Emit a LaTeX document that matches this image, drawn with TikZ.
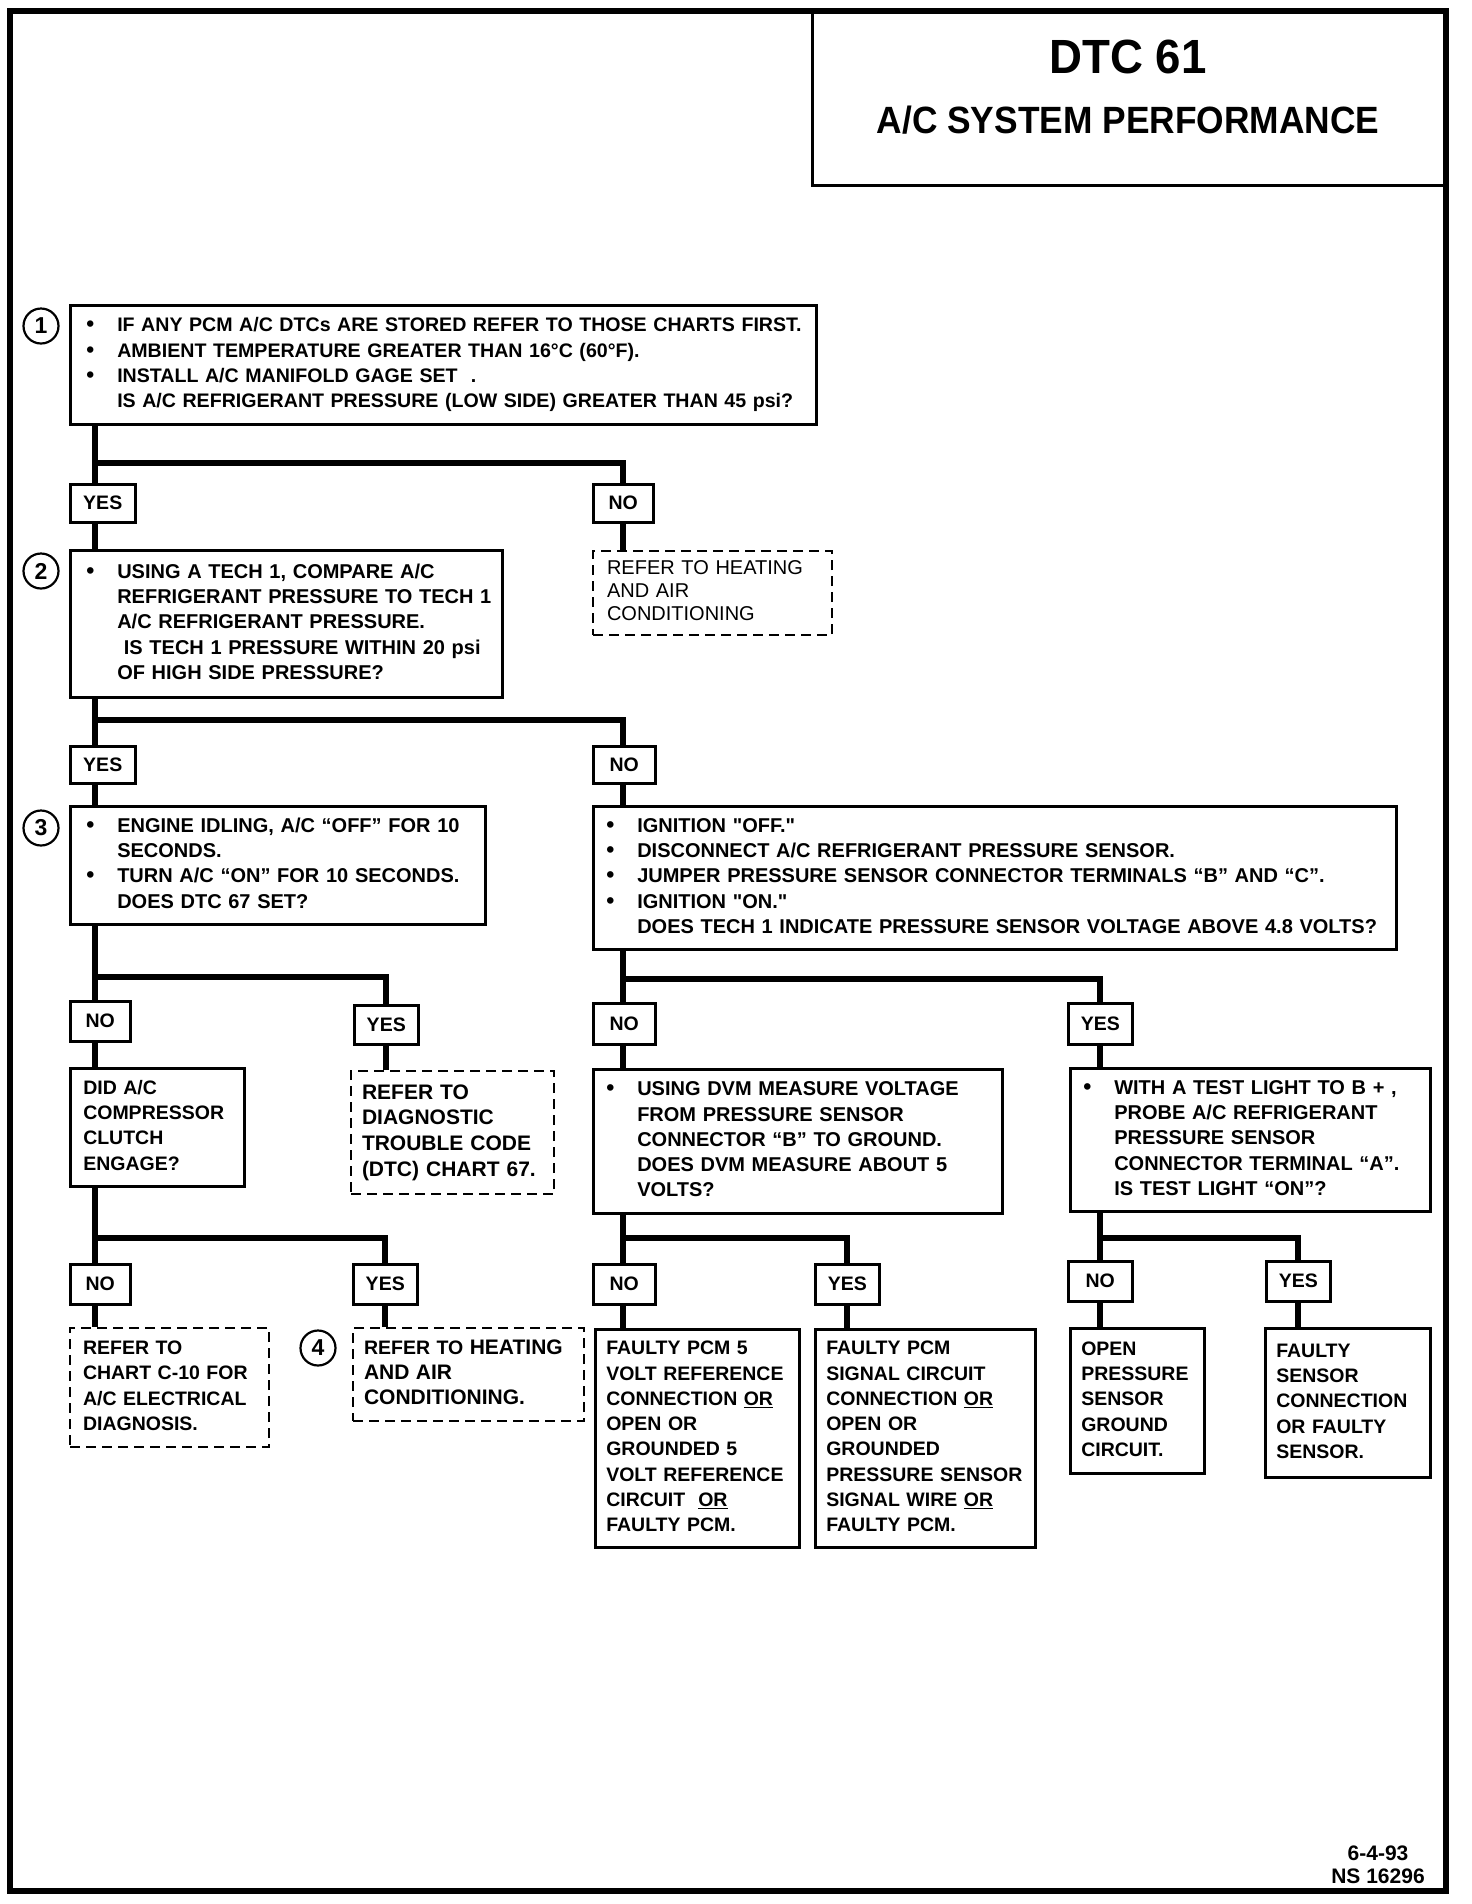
\documentclass[tikz,border=0pt]{standalone}
\usepackage{fontspec}
\usepackage{graphicx}
\setmainfont{Liberation Sans}
\usetikzlibrary{calc}
\newcommand{\mf}{\fontsize{20}{25.3}\selectfont\bfseries}
\newcommand{\smf}{\fontsize{19.5}{25.3}\selectfont\bfseries}
\newcommand{\hfb}{\fontsize{21}{25.6}\selectfont\bfseries}
\newcommand{\hfr}{\fontsize{20}{23}\selectfont\mdseries}
\newcommand{\bu}{\makebox[31pt][l]{\scalebox{1.15}{\textbullet}}}
\newcommand{\ii}{\hspace*{31pt}}
\newcommand{\tlines}[1]{\noindent\begin{tabular}{@{}l@{}}#1\end{tabular}}
\begin{document}
\begin{tikzpicture}[x=1pt,y=-1pt,
  box/.style={draw, line width=2.5pt, anchor=north west, inner ysep=0pt, font=\mf},
  sbox/.style={box, font=\smf},
  dbox/.style={box, line width=2pt, dash pattern=on 10pt off 6pt},
  yn/.style={draw, line width=2.5pt, anchor=north west, inner sep=0pt, font=\smf},
  num/.style={circle, draw, line width=2.2pt, minimum size=35pt, inner sep=0pt, font=\fontsize{23}{23}\selectfont\bfseries},
  conn/.style={line width=6pt},
  frame/.style={line width=6pt}]
\useasboundingbox (0,0) rectangle (1472,1904);
\draw[frame] (10,11) rectangle (1446,1891);
\node[draw, line width=3pt, anchor=north west, minimum width=635pt, minimum height=173pt, inner sep=0pt] (title) at (811,11) {};
\node (t1) at (1128,57) {\fontsize{48}{48}\selectfont\bfseries\scalebox{0.95}[1]{DTC 61}};
\node (t2) at (1128,120) {\fontsize{38}{38}\selectfont\bfseries\scalebox{0.93}[1]{A/C SYSTEM PERFORMANCE}};

% step 1
\node[num] (c1) at (41,326) {1};
\node[box, font=\fontsize{19.6}{25.3}\selectfont\bfseries, inner xsep=16pt, text width=714pt, minimum height=119pt] (b1) at (69,304)
 {\tlines{\bu IF ANY PCM A/C DTCs ARE STORED REFER TO THOSE CHARTS FIRST.\\
  \bu AMBIENT TEMPERATURE GREATER THAN 16°C (60°F).\\
  \bu INSTALL A/C MANIFOLD GAGE SET~~.\\
  \ii IS A/C REFRIGERANT PRESSURE (LOW SIDE) GREATER THAN 45 psi?}};
\node[yn, minimum width=65pt, minimum height=38pt] (y1) at (69,483) {YES};
\node[yn, minimum width=60pt, minimum height=38pt] (n1) at (592,483) {NO};
\node[dbox, font=\hfr, inner xsep=14pt, text width=211pt, minimum height=84pt] (d1) at (592,550)
 {\tlines{REFER TO HEATING\\AND AIR\\CONDITIONING}};

% step 2
\node[num] (c2) at (41,571) {2};
\node[box, inner xsep=16pt, text width=400pt, minimum height=147pt] (b2) at (69,549)
 {\tlines{\bu USING A TECH 1, COMPARE A/C\\
  \ii REFRIGERANT PRESSURE TO TECH 1\\
  \ii A/C REFRIGERANT PRESSURE.\\
  \ii\ IS TECH 1 PRESSURE WITHIN 20 psi\\
  \ii OF HIGH SIDE PRESSURE?}};
\node[yn, minimum width=65pt, minimum height=37pt] (y2) at (69,745) {YES};
\node[yn, minimum width=62pt, minimum height=37pt] (n2) at (592,745) {NO};

% step 3
\node[num] (c3) at (41,828) {3};
\node[box, inner xsep=16pt, text width=383pt, minimum height=118pt] (b3) at (69,805)
 {\tlines{\bu ENGINE IDLING, A/C “OFF” FOR 10\\
  \ii SECONDS.\\
  \bu TURN A/C “ON” FOR 10 SECONDS.\\
  \ii DOES DTC 67 SET?}};
\node[box, inner xsep=13pt, text width=777pt, minimum height=143pt] (b4) at (592,805)
 {\tlines{\bu IGNITION \textquotedbl OFF.\textquotedbl\\
  \bu DISCONNECT A/C REFRIGERANT PRESSURE SENSOR.\\
  \bu JUMPER PRESSURE SENSOR CONNECTOR TERMINALS “B” AND “C”.\\
  \bu IGNITION \textquotedbl ON.\textquotedbl\\
  \ii DOES TECH 1 INDICATE PRESSURE SENSOR VOLTAGE ABOVE 4.8 VOLTS?}};

\node[yn, minimum width=60pt, minimum height=40pt] (n3) at (69,1000) {NO};
\node[yn, minimum width=64pt, minimum height=39pt] (y3) at (353,1004) {YES};
\node[yn, minimum width=62pt, minimum height=41pt] (n4) at (592,1002) {NO};
\node[yn, minimum width=64pt, minimum height=41pt] (y4) at (1067,1002) {YES};

\node[sbox, inner xsep=13pt, text width=148pt, minimum height=118pt] (bd) at (69,1067)
 {\tlines{DID A/C\\COMPRESSOR\\CLUTCH\\ENGAGE?}};
\node[dbox, font=\hfb, inner xsep=11pt, text width=181pt, minimum height=123pt] (dd) at (350,1070)
 {\tlines{REFER TO\\DIAGNOSTIC\\TROUBLE CODE\\(DTC) CHART 67.}};
\node[box, inner xsep=13pt, text width=383pt, minimum height=144pt] (bv) at (592,1068)
 {\tlines{\bu USING DVM MEASURE VOLTAGE\\
  \ii FROM PRESSURE SENSOR\\
  \ii CONNECTOR “B” TO GROUND.\\
  \ii DOES DVM MEASURE ABOUT 5\\
  \ii VOLTS?}};
\node[box, inner xsep=13pt, text width=334pt, minimum height=143pt] (bt) at (1069,1067)
 {\tlines{\bu WITH A TEST LIGHT TO B + ,\\
  \ii PROBE A/C REFRIGERANT\\
  \ii PRESSURE SENSOR\\
  \ii CONNECTOR TERMINAL “A”.\\
  \ii IS TEST LIGHT “ON”?}};

\node[yn, minimum width=60pt, minimum height=40pt] (n5) at (69,1263) {NO};
\node[yn, minimum width=64pt, minimum height=40pt] (y5) at (352,1263) {YES};
\node[yn, minimum width=62pt, minimum height=40pt] (n6) at (592,1263) {NO};
\node[yn, minimum width=64pt, minimum height=40pt] (y6) at (814,1263) {YES};
\node[yn, minimum width=64pt, minimum height=40pt] (n7) at (1067,1260) {NO};
\node[yn, minimum width=64pt, minimum height=40pt] (y7) at (1265,1260) {YES};

\node[dbox, font=\smf, inner xsep=13pt, text width=173pt, minimum height=119pt] (dc) at (69,1327)
 {\tlines{REFER TO\\CHART C-10 FOR\\A/C ELECTRICAL\\DIAGNOSIS.}};
\node[num] (c4) at (318,1348) {4};
\node[dbox, font=\smf, inner xsep=11pt, text width=209pt, minimum height=93pt] (dh) at (352,1327)
 {\tlines{REFER TO {\hfb HEATING}\\{\hfb AND AIR}\\{\hfb CONDITIONING.}}};
\node[sbox, inner xsep=11pt, text width=182pt, minimum height=218pt] (f1) at (594,1328)
 {\tlines{FAULTY PCM 5\\VOLT REFERENCE\\CONNECTION \underline{OR}\\OPEN OR\\GROUNDED 5\\VOLT REFERENCE\\CIRCUIT~~\underline{OR}\\FAULTY PCM.}};
\node[sbox, inner xsep=11pt, text width=198pt, minimum height=218pt] (f2) at (814,1328)
 {\tlines{FAULTY PCM\\SIGNAL CIRCUIT\\CONNECTION \underline{OR}\\OPEN OR\\GROUNDED\\PRESSURE SENSOR\\SIGNAL WIRE \underline{OR}\\FAULTY PCM.}};
\node[sbox, inner xsep=11pt, text width=112pt, minimum height=145pt] (f3) at (1069,1327)
 {\tlines{OPEN\\PRESSURE\\SENSOR\\GROUND\\CIRCUIT.}};
\node[sbox, inner xsep=11pt, text width=143pt, minimum height=149pt] (f4) at (1264,1327)
 {\tlines{FAULTY\\SENSOR\\CONNECTION\\OR FAULTY\\SENSOR.}};

\node[align=center, font=\fontsize{21}{23}\selectfont\bfseries] (foot) at (1378,1865) {6-4-93\\NS 16296};

% connectors
\coordinate (tL) at (95,0);
\coordinate (tR) at (623,0);
\coordinate (j1) at (95,463);
\coordinate (j2) at (95,720);
\coordinate (j3) at (95,977);
\coordinate (j4) at (623,979);
\coordinate (j5) at (95,1238);
\coordinate (j6) at (623,1238);
\coordinate (j7) at (y4 |- j6);

\draw[conn] (b1.south -| tL) -- (y1.north -| tL);
\draw[conn] (j1) -| (n1.north);
\draw[conn] (n1.south) -- (d1.north -| n1.south);
\draw[conn] (y1.south -| tL) -- (b2.north -| tL);

\draw[conn] (b2.south -| tL) -- (y2.north -| tL);
\draw[conn] (j2) -| (n2.north -| tR);
\draw[conn] (y2.south -| tL) -- (b3.north -| tL);
\draw[conn] (n2.south -| tR) -- (b4.north -| tR);

\draw[conn] (b3.south -| tL) -- (n3.north -| tL);
\draw[conn] (j3) -| (y3.north);
\draw[conn] (n3.south -| tL) -- (bd.north -| tL);
\draw[conn] (y3.south) -- (dd.north -| y3.south);

\draw[conn] (b4.south -| tR) -- (n4.north -| tR);
\draw[conn] (j4) -| (y4.north);
\draw[conn] (n4.south -| tR) -- (bv.north -| tR);
\draw[conn] (y4.south) -- (bt.north -| y4.south);

\draw[conn] (bd.south -| tL) -- (n5.north -| tL);
\draw[conn] (j5) -| (y5.north);
\draw[conn] (n5.south -| tL) -- (dc.north -| tL);
\draw[conn] (y5.south) -- (dh.north -| y5.south);

\draw[conn] (bv.south -| tR) -- (n6.north -| tR);
\draw[conn] (j6) -| (y6.north);
\draw[conn] (n6.south -| tR) -- (f1.north -| tR);
\draw[conn] (y6.south) -- (f2.north -| y6.south);

\draw[conn] (bt.south -| y4) -- (n7.north -| y4);
\draw[conn] (j7) -| (y7.north);
\draw[conn] (n7.south -| y4) -- (f3.north -| y4);
\draw[conn] (y7.south) -- (f4.north -| y7.south);
\end{tikzpicture}
\end{document}
